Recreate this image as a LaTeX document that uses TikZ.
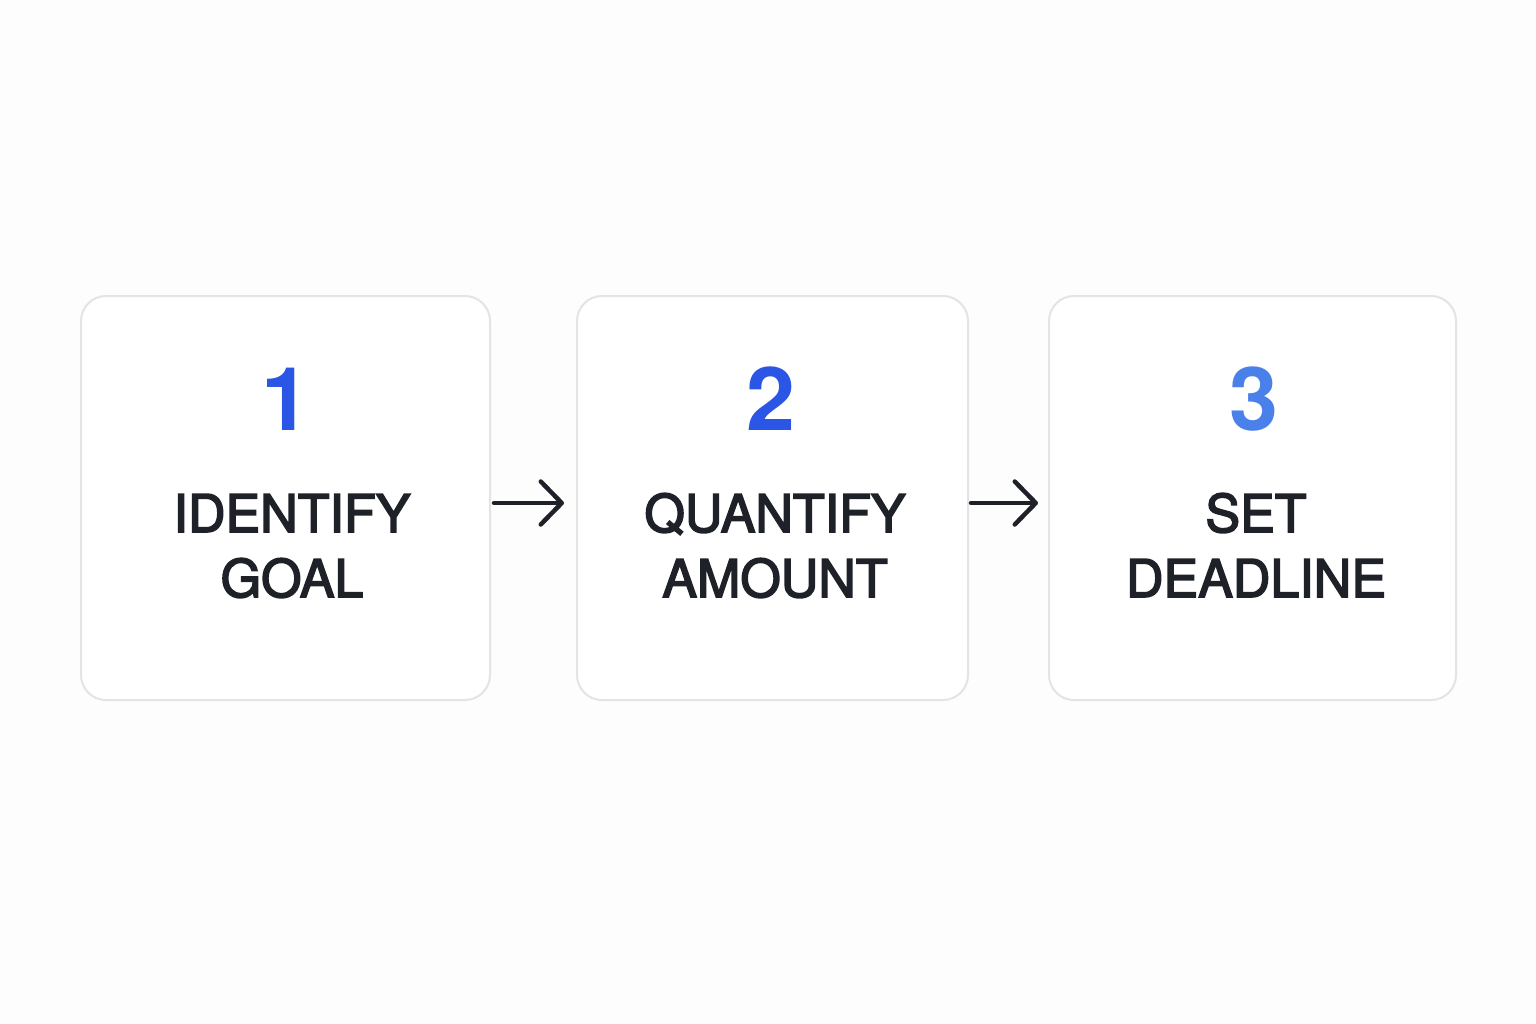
\documentclass[tikz,border=0pt]{standalone}
\usepackage{fontspec}
\setmainfont{TeX Gyre Heros}
\newfontfamily\labfont[RawFeature={embolden=3}]{TeX Gyre Heros}
\usetikzlibrary{arrows.meta}
\definecolor{bgc}{HTML}{FDFDFD}
\definecolor{boxline}{HTML}{E4E4E6}
\definecolor{numblue}{HTML}{2A55E5}
\definecolor{numlight}{HTML}{4A80EA}
\definecolor{ink}{HTML}{1E2228}
\tikzset{
  card/.style={draw=boxline, line width=2pt, fill=white, rounded corners=25pt, inner sep=0pt},
  numtxt/.style={anchor=base, inner sep=0pt, font=\fontsize{88}{88}\selectfont\bfseries},
  labtxt/.style={anchor=base, inner sep=0pt, text=ink, font=\labfont\fontsize{52}{65}\selectfont},
  flow/.style={draw=ink, line width=4.5pt, line cap=round, -{Straight Barb[length=21pt,width=43pt,round]}},
}
\begin{document}
\begin{tikzpicture}[x=1pt,y=-1pt]
\fill[bgc] (0,0) rectangle (1536,1024);
\useasboundingbox (0,0) rectangle (1536,1024);
\node[card, minimum width=409pt, minimum height=404pt] (box1) at (285.5,498) {};
\node[card, minimum width=391pt, minimum height=404pt] (box2) at (772.5,498) {};
\node[card, minimum width=407pt, minimum height=404pt] (box3) at (1252.5,498) {};
\node[numtxt, text=numblue] (n1) at (286,430) {1};
\node[numtxt, text=numblue] (n2) at (771,430) {2};
\node[numtxt, text=numlight] (n3) at (1254,430) {3};
\node[labtxt] (l1a) at (292,532) {IDENTIFY};
\node[labtxt] (l1b) at (292,597) {GOAL};
\node[labtxt] (l2a) at (775,532) {QUANTIFY};
\node[labtxt] (l2b) at (775,597) {AMOUNT};
\node[labtxt] (l3a) at (1256,532) {SET};
\node[labtxt] (l3b) at (1256,597) {DEADLINE};
\coordinate (a1s) at (box1.east |- 0,503);
\coordinate (a1e) at (box2.west |- 0,503);
\coordinate (a2s) at (box2.east |- 0,503);
\coordinate (a2e) at (box3.west |- 0,503);
\draw[flow, shorten <=3pt, shorten >=12pt] (a1s) -- (a1e);
\draw[flow, shorten <=2pt, shorten >=10pt] (a2s) -- (a2e);
\end{tikzpicture}
\end{document}
